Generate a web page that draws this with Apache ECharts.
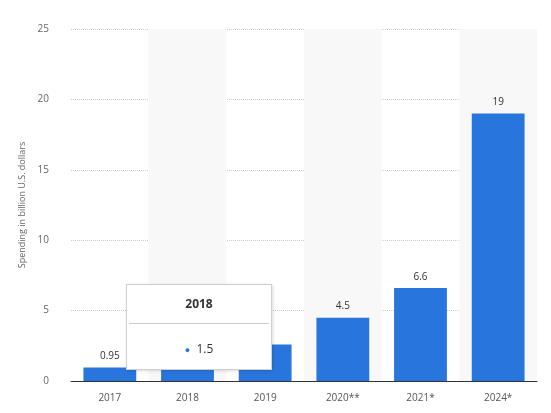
<!DOCTYPE html>
<html>
<head>
<meta charset="utf-8">
<script src="https://cdn.jsdelivr.net/npm/echarts@6/dist/echarts.min.js"></script>
<style>
    html, body {margin: 0; padding: 0; background: #fff;}
    #chart {width: 551px; height: 413px;}
</style>
</head>
<body>
<div id="chart"></div>
<script>
let years = ['2017', '2018', '2019', '2020**', '2021*', '2024*'];
let spending = [0.95, 1.5, 2.6, 4.5, 6.6, 19];

let chartDom = document.getElementById('chart');
let myChart = echarts.init(chartDom, null, {renderer: 'canvas'});

let option = {
    animation: false,
    tooltip: {
        trigger: 'item',
        alwaysShowContent: true,
        position: [126, 284],
        backgroundColor: '#fff',
        borderColor: '#d0d0d0',
        borderWidth: 1,
        padding: 0,
        extraCssText: 'border-radius:0;box-shadow:1px 1px 3px rgba(0,0,0,0.15);',
        formatter: function (p) {
            return '<div style="width:144px;font-family:Open Sans,sans-serif;color:#333;">' +
                '<div style="text-align:center;font-weight:bold;font-size:12px;padding:8px 0 9px;border-bottom:1px solid #ccc;margin:0 2px;">' + p.name + '</div>' +
                '<div style="text-align:center;font-size:12px;padding:14px 0 9px;"><span style="color:#2876dd;font-size:9px;">&#9679;</span>&nbsp; ' + p.value + '</div></div>';
        }
    },
    grid: {left: 71, right: 14, top: 29, bottom: 32},
    xAxis: {
        type: 'category',
        data: years,
        axisLine: {lineStyle: {color: '#333', width: 1}},
        axisTick: {show: false},
        axisLabel: {color: '#555', fontSize: 10, margin: 12, fontFamily: 'Open Sans'},
        splitArea: {show: true, areaStyle: {color: ['rgba(255,255,255,0)', '#f8f8f8']}}
    },
    yAxis: {
        type: 'value',
        min: 0,
        max: 25,
        interval: 5,
        name: 'Spending in billion U.S. dollars',
        nameLocation: 'middle',
        nameGap: 38,
        nameTextStyle: {color: '#666', fontSize: 9, fontFamily: 'Open Sans'},
        axisLine: {show: false},
        axisTick: {show: false},
        axisLabel: {color: '#666', fontSize: 10, margin: 22, fontFamily: 'Open Sans'},
        splitLine: {lineStyle: {color: '#ccc', type: 'dotted'}}
    },
    series: [
        {
            name: 'Spending',
            type: 'bar',
            data: spending,
            barWidth: '68%',
            itemStyle: {color: '#2876dd'},
            label: {
                show: true,
                position: 'top',
                color: '#333',
                fontSize: 10,
                fontFamily: 'Open Sans',
                distance: 6
            }
        }
    ]
};

option && myChart.setOption(option);
myChart.dispatchAction({type: 'showTip', seriesIndex: 0, dataIndex: 1});
</script>
</body>
</html>
